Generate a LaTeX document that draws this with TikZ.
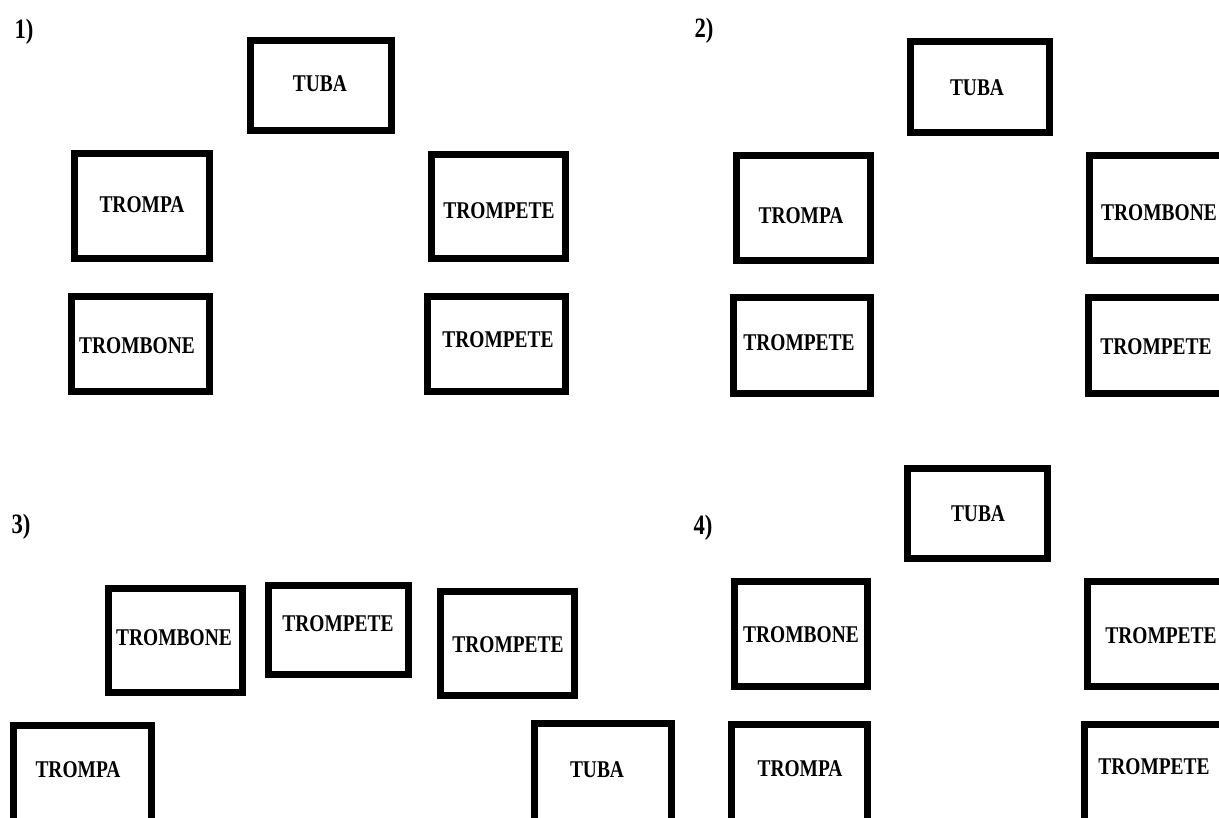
\documentclass[tikz,border=0pt]{standalone}
\usepackage{fontspec}
\newfontfamily\lblfont[FakeStretch=0.81]{Liberation Serif}
\begin{document}
\begin{tikzpicture}[x=1pt,y=-1pt,
  bx/.style={draw=black, line width=7pt, inner sep=0pt, outer sep=0pt},
  lbl/.style={font=\lblfont\bfseries\fontsize{24}{24}\selectfont, inner sep=0pt, anchor=center},
  num/.style={font=\lblfont\bfseries\fontsize{28}{28}\selectfont, inner sep=0pt, anchor=center}]
\useasboundingbox (0,0) rectangle (1219,818);
\clip (0,0) rectangle (1219,818);
\fill[white] (0,0) rectangle (1219,818);
% panel labels
\node[num] (n1) at (24,32) {1)};
\node[num] (n2) at (704,31) {2)};
\node[num] (n3) at (21,527) {3)};
\node[num] (n4) at (703,528) {4)};
% panel 1
\node[bx, minimum width=141, minimum height=90] (p1tuba) at (321,85.5) {};
\node[lbl] (t1tuba) at (320,84) {TUBA};
\node[bx, minimum width=135, minimum height=105] (p1trompa) at (142,206) {};
\node[lbl] (t1trompa) at (142,205) {TROMPA};
\node[bx, minimum width=134, minimum height=104] (p1trompetea) at (498.5,206.5) {};
\node[lbl] (t1trompetea) at (499,211) {TROMPETE};
\node[bx, minimum width=138, minimum height=95] (p1trombone) at (140.5,344) {};
\node[lbl] (t1trombone) at (137,346) {TROMBONE};
\node[bx, minimum width=138, minimum height=95] (p1trompeteb) at (496.5,344) {};
\node[lbl] (t1trompeteb) at (498,340) {TROMPETE};
% panel 2
\node[bx, minimum width=139, minimum height=91] (p2tuba) at (980,87) {};
\node[lbl] (t2tuba) at (977,88) {TUBA};
\node[bx, minimum width=134, minimum height=105] (p2trompa) at (803.5,208) {};
\node[lbl] (t2trompa) at (801,216) {TROMPA};
\node[bx, minimum width=145, minimum height=105] (p2trombone) at (1162,208) {};
\node[lbl] (t2trombone) at (1159,213) {TROMBONE};
\node[bx, minimum width=137, minimum height=96] (p2trompetea) at (802,345.5) {};
\node[lbl] (t2trompetea) at (799,343) {TROMPETE};
\node[bx, minimum width=148, minimum height=96] (p2trompeteb) at (1162.5,345.5) {};
\node[lbl] (t2trompeteb) at (1156,347) {TROMPETE};
% panel 3
\node[bx, minimum width=134, minimum height=104] (p3trombone) at (175.5,640.5) {};
\node[lbl] (t3trombone) at (174,638) {TROMBONE};
\node[bx, minimum width=140, minimum height=89] (p3trompetea) at (338.5,630) {};
\node[lbl] (t3trompetea) at (338,624) {TROMPETE};
\node[bx, minimum width=134, minimum height=104] (p3trompeteb) at (507.5,643.5) {};
\node[lbl] (t3trompeteb) at (508,645) {TROMPETE};
\node[bx, minimum width=138, minimum height=105] (p3trompa) at (82.5,778) {};
\node[lbl] (t3trompa) at (78,770) {TROMPA};
\node[bx, minimum width=137, minimum height=105] (p3tuba) at (603,776) {};
\node[lbl] (t3tuba) at (597,770) {TUBA};
% panel 4
\node[bx, minimum width=140, minimum height=90] (p4tuba) at (977.5,513.5) {};
\node[lbl] (t4tuba) at (978,514) {TUBA};
\node[bx, minimum width=146, minimum height=105] (p4trompetea) at (1160,634) {};
\node[lbl] (t4trompetea) at (1161,636) {TROMPETE};
\node[bx, minimum width=133, minimum height=105] (p4trombone) at (801,634) {};
\node[lbl] (t4trombone) at (801,635) {TROMBONE};
\node[bx, minimum width=136, minimum height=104] (p4trompa) at (799.5,776) {};
\node[lbl] (t4trompa) at (800,769) {TROMPA};
\node[bx, minimum width=150, minimum height=104] (p4trompeteb) at (1159,776) {};
\node[lbl] (t4trompeteb) at (1154,767) {TROMPETE};
\end{tikzpicture}
\end{document}
